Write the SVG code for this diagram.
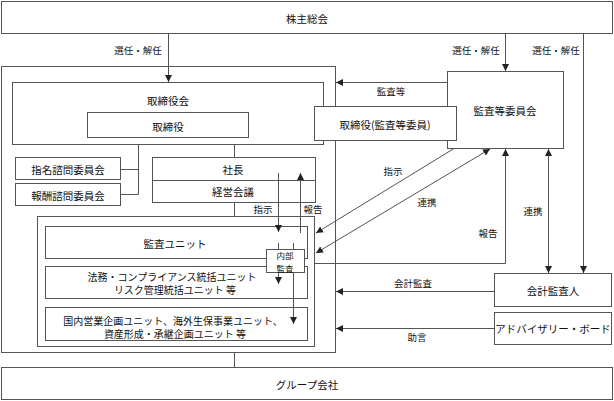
<svg xmlns="http://www.w3.org/2000/svg" width="614" height="401" viewBox="0 0 614 401">
<style>
rect{fill:#fff;stroke:#555;stroke-width:1}
text{font-family:"Noto Sans CJK JP","Noto Sans",sans-serif;fill:#111;text-anchor:middle;dominant-baseline:central}
.n{font-size:10.5px}
.m{font-size:10px}
.s{font-size:8.5px}
.l{font-size:9.5px}
#connectors path{fill:none;stroke:#555;stroke-width:1}
.a{marker-end:url(#ah)}
.b{marker-start:url(#ah);marker-end:url(#ah)}
</style>
<defs>
<marker id="ah" viewBox="0 0 8 8" refX="8" refY="4" markerWidth="7" markerHeight="7" markerUnits="userSpaceOnUse" orient="auto-start-reverse"><path d="M0,0 L8,4 L0,8 z" fill="#222"/></marker>
</defs>
<g id="shareholders"><rect x="1.5" y="1.5" width="611" height="32"/><text class="n" x="307" y="18">株主総会</text></g>
<g id="company"><rect x="1.5" y="66.5" width="334" height="286"/></g>
<g id="board"><rect x="12.5" y="82.5" width="311" height="62"/><text class="n" x="168" y="100">取締役会</text></g>
<g id="directors"><rect x="87.5" y="112.5" width="161" height="25"/><text class="n" x="168" y="126">取締役</text></g>
<g id="audit-committee"><rect x="447.5" y="71.5" width="116" height="77"/><text class="n" x="505" y="110">監査等委員会</text></g>
<g id="audit-directors"><rect x="314.5" y="106.5" width="142" height="34"/><text class="n" x="385" y="124">取締役(監査等委員)</text></g>
<g id="nomination"><rect x="15.5" y="157.5" width="105" height="22"/><text class="n" x="68" y="169">指名諮問委員会</text></g>
<g id="compensation"><rect x="15.5" y="183.5" width="105" height="22"/><text class="n" x="68" y="195">報酬諮問委員会</text></g>
<g id="president"><rect x="152.5" y="157.5" width="163" height="45"/><path d="M152.5,180.5 H315.5" stroke="#555" fill="none"/><text class="n" x="233" y="169">社長</text><text class="n" x="233" y="191">経営会議</text></g>
<g id="units"><rect x="37.5" y="216.5" width="277" height="130"/></g>
<g id="audit-unit"><rect x="45.5" y="226.5" width="262" height="32"/><text class="n" x="175" y="243">監査ユニット</text></g>
<g id="legal-unit"><rect x="45.5" y="266.5" width="262" height="32"/><text class="m" x="172" y="276">法務・コンプライアンス統括ユニット</text><text class="m" x="175" y="289.5">リスク管理統括ユニット 等</text></g>
<g id="business-unit"><rect x="45.5" y="307.5" width="262" height="33"/><text class="m" x="173" y="320">国内営業企画ユニット、海外生保事業ユニット、</text><text class="m" x="175" y="333.5">資産形成・承継企画ユニット 等</text></g>
<g id="internal-audit"><rect x="266.5" y="249.5" width="38" height="23"/><text class="s" x="285" y="255">内部</text><text class="s" x="285" y="267.5">監査</text></g>
<g id="accounting-auditor"><rect x="494.5" y="273.5" width="117" height="33"/><text class="n" x="553" y="290">会計監査人</text></g>
<g id="advisory-board"><rect x="494.5" y="312.5" width="117" height="32"/><text class="n" x="553" y="328">アドバイザリー・ボード</text></g>
<g id="group"><rect x="1.5" y="367.5" width="611" height="32"/><text class="n" x="307" y="384">グループ会社</text></g>
<g id="connectors">
<path class="a" d="M168.5,33 V82"/>
<path class="a" d="M505.5,33 V71"/>
<path class="a" d="M583.5,33 V273"/>
<path class="a" d="M447,82.5 H336"/>
<path d="M138.5,144 V194.5 M121,169.5 H138.5 M121,194.5 H138.5"/>
<path d="M234.5,145 V157 M234.5,203 V216 M234.5,353 V367"/>
<path class="a" d="M278.5,173 V232"/>
<path class="a" d="M300.5,233 V173"/>
<path d="M278.5,243 V249 M293.5,243 V249"/>
<path class="a" d="M278.5,273 V284"/>
<path class="a" d="M293.5,273 V324"/>
<path class="a" d="M454,148.5 L316,233"/>
<path class="b" d="M490,149 L316,253"/>
<path class="a" d="M315,263.5 H505.5 V149"/>
<path class="b" d="M548.5,149 V273"/>
<path class="a" d="M494,291.5 H336"/>
<path class="a" d="M494,328.5 H336"/>
</g>
<g id="labels">
<text class="l" x="138" y="50">選任・解任</text>
<text class="l" x="476" y="50">選任・解任</text>
<text class="l" x="556" y="50">選任・解任</text>
<text class="l" x="391" y="91">監査等</text>
<text class="l" x="263" y="209">指示</text>
<text class="l" x="313" y="209">報告</text>
<text class="l" x="393" y="171">指示</text>
<text class="l" x="427" y="202">連携</text>
<text class="l" x="488" y="233">報告</text>
<text class="l" x="533" y="211">連携</text>
<text class="l" x="413" y="283">会計監査</text>
<text class="l" x="417" y="337">助言</text>
</g>
</svg>
